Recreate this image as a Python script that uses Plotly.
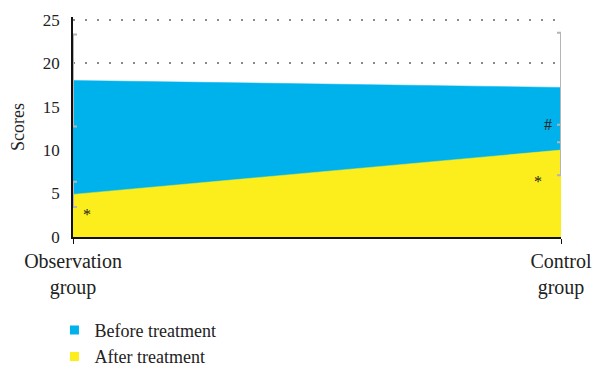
import plotly.graph_objects as go

# Groups on the x axis
groups = ["Observation<br>group", "Control<br>group"]

# Mean scores and standard deviations
before_mean = [18.0, 17.2]
before_sd = [5.3, 6.3]
after_mean = [4.9, 10.0]
after_sd = [1.45, 2.9]

# Significance markers: (group index, y value, symbol, pixel shift)
marks = [(0, 2.9, "*", 14), (1, 6.7, "*", -23), (1, 13.3, "#", -13)]

BLUE = "#00B2EC"
YELLOW = "#FCEE1C"
GREY = "#B4B4B8"
SERIF = "Liberation Serif"

fig = go.Figure()

# Filled areas (before treatment behind, after treatment in front)
fig.add_trace(go.Scatter(x=groups, y=before_mean, mode="lines", fill="tozeroy",
                         fillcolor=BLUE, line=dict(color=BLUE, width=0.5),
                         showlegend=False, hoverinfo="skip"))
fig.add_trace(go.Scatter(x=groups, y=after_mean, mode="lines", fill="tozeroy",
                         fillcolor=YELLOW, line=dict(color=YELLOW, width=0.5),
                         showlegend=False, hoverinfo="skip"))

# Error bars drawn on top of the fills
for means, sds in ((before_mean, before_sd), (after_mean, after_sd)):
    fig.add_trace(go.Scatter(x=groups, y=means, mode="markers",
                             marker=dict(size=1, opacity=0),
                             error_y=dict(type="data", array=sds, visible=True,
                                          color=GREY, thickness=2, width=4),
                             cliponaxis=False, showlegend=False, hoverinfo="skip"))

# Legend entries with small square swatches
fig.add_trace(go.Scatter(x=[None], y=[None], mode="markers", name="Before treatment",
                         marker=dict(symbol="square", size=9, color=BLUE)))
fig.add_trace(go.Scatter(x=[None], y=[None], mode="markers", name="After treatment",
                         marker=dict(symbol="square", size=9, color=YELLOW)))

for gi, yv, sym, shift in marks:
    fig.add_annotation(x=groups[gi], y=yv, text=sym, showarrow=False,
                       xshift=shift, yshift=-3,
                       font=dict(family=SERIF, size=16, color="#222"))

fig.update_layout(
    width=596, height=370,
    margin=dict(l=73, r=35, t=17, b=133, autoexpand=False),
    plot_bgcolor="white", paper_bgcolor="white",
    font=dict(family=SERIF, color="#222"),
    legend=dict(x=-0.038, y=-0.34, xanchor="left", yanchor="top",
                font=dict(family=SERIF, size=18, color="#222"),
                tracegroupgap=0, itemwidth=30),
    xaxis=dict(type="category", range=[0, 1], showline=True, linecolor="#111",
               linewidth=1.5, ticks="outside", ticklen=5, tickcolor="#111",
               tickfont=dict(family=SERIF, size=20, color="#222"),
               showgrid=False, zeroline=False),
    yaxis=dict(range=[0, 25.3], tickvals=[0, 5, 10, 15, 20, 25], showline=True,
               linecolor="#111", linewidth=1.5, ticks="", ticklabelstandoff=8,
               layer="below traces",
               tickfont=dict(family=SERIF, size=17, color="#222"),
               showgrid=True, gridcolor="#8A8A8A", gridwidth=1.5,
               griddash="2px,10px", zeroline=False,
               title=dict(text="Scores", standoff=14,
                          font=dict(family=SERIF, size=18, color="#222"))),
)

fig.write_html("out.html")
